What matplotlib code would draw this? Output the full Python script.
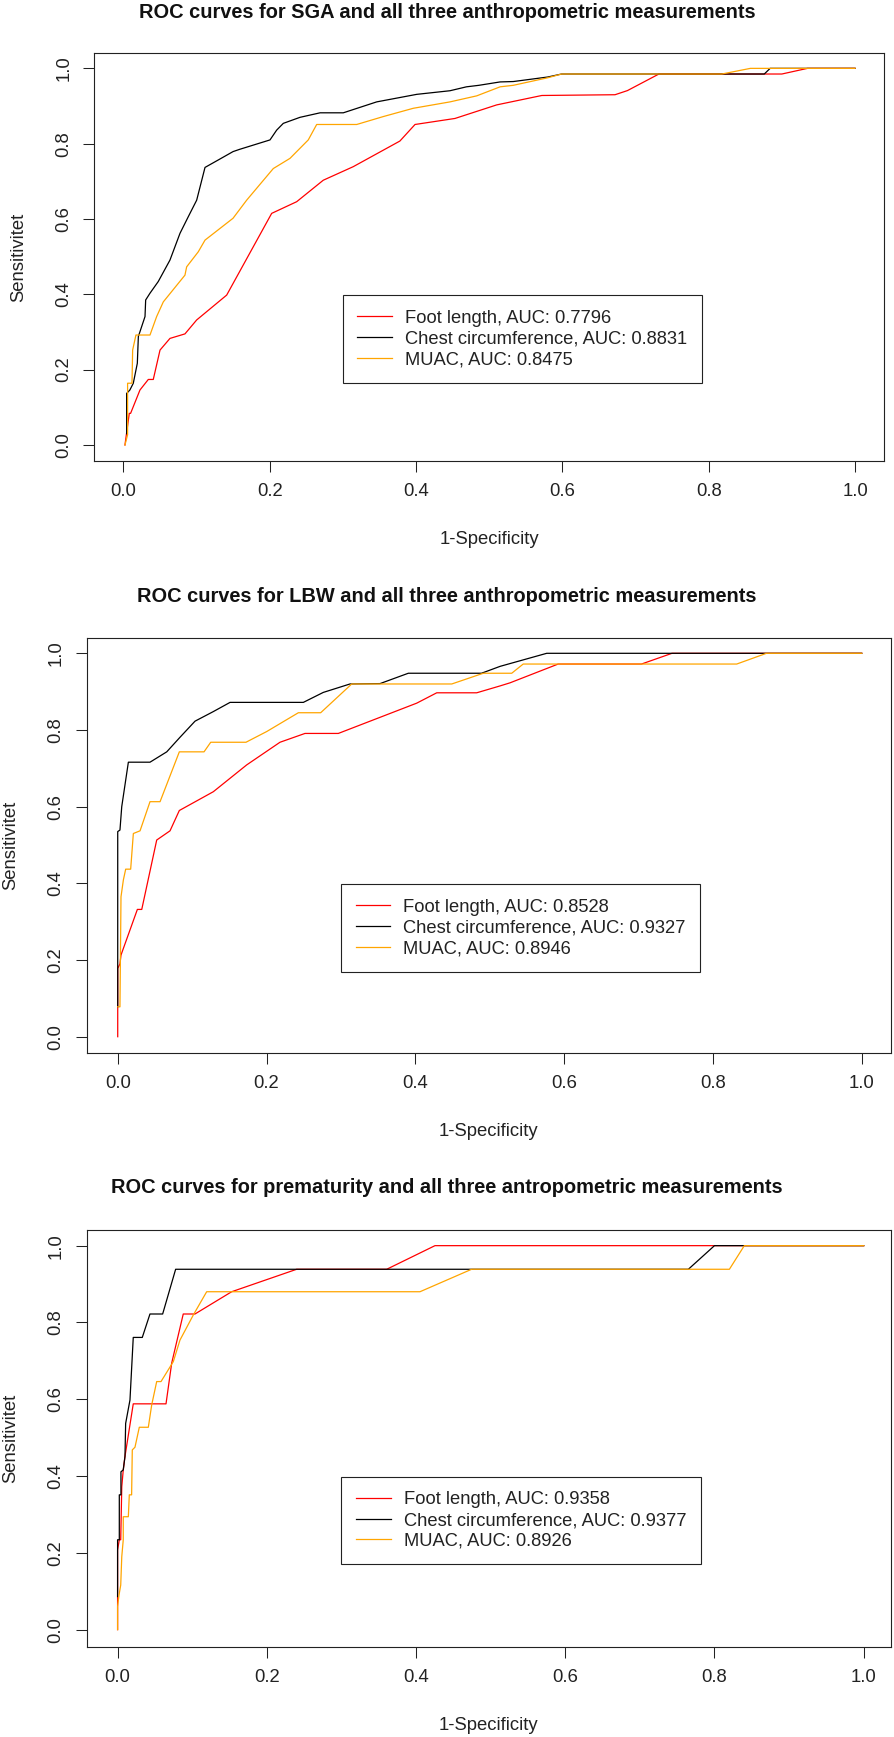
import matplotlib
matplotlib.use("Agg")
import matplotlib.pyplot as plt

plt.rcParams['font.family'] = ['Liberation Sans', 'DejaVu Sans']

W, H = 894, 1737

# ---- data (1-specificity, sensitivity) ----
sga_foot_x = [0.0023, 0.0082, 0.010, 0.0228, 0.0342, 0.0410, 0.0502, 0.0638, 0.0843, 0.1003, 0.1413, 0.2028, 0.237,
              0.2733, 0.3143, 0.378, 0.3987, 0.4533, 0.5103, 0.572, 0.672, 0.689, 0.732, 0.876, 0.90, 0.935, 1.0]
sga_foot_y = [0.0, 0.084, 0.084, 0.146, 0.174, 0.174, 0.252, 0.283, 0.295, 0.332, 0.398, 0.615, 0.646,
              0.703, 0.739, 0.807, 0.851, 0.867, 0.903, 0.928, 0.930, 0.941, 0.985, 0.985, 0.985, 1.0, 1.0]
sga_chest_x = [0.0046, 0.0046, 0.009, 0.0137, 0.0192, 0.0206, 0.0297, 0.0306, 0.0365, 0.0478, 0.0638, 0.0775, 0.0888,
               0.1003, 0.1117, 0.130, 0.150, 0.159, 0.2005, 0.2096, 0.2187, 0.2415, 0.269, 0.3007, 0.3463, 0.401,
               0.4465, 0.469, 0.486, 0.515, 0.533, 0.580, 0.599, 0.818, 0.876, 0.884, 1.0]
sga_chest_y = [0.03, 0.137, 0.146, 0.164, 0.217, 0.288, 0.341, 0.385, 0.403, 0.434, 0.491, 0.562, 0.606,
               0.650, 0.737, 0.757, 0.779, 0.785, 0.810, 0.836, 0.854, 0.870, 0.882, 0.882, 0.911, 0.931,
               0.9406, 0.951, 0.955, 0.964, 0.965, 0.977, 0.985, 0.985, 0.985, 1.0, 1.0]
sga_muac_x = [0.0023, 0.0059, 0.0059, 0.0119, 0.0128, 0.0173, 0.0365, 0.0456, 0.0547, 0.0843, 0.0866, 0.1025, 0.1117,
              0.150, 0.1686, 0.205, 0.2278, 0.2528, 0.2643, 0.319, 0.3553, 0.3963, 0.4465, 0.483, 0.515, 0.533,
              0.580, 0.599, 0.818, 0.857, 1.0]
sga_muac_y = [0.0, 0.027, 0.164, 0.164, 0.252, 0.292, 0.292, 0.341, 0.380, 0.451, 0.473, 0.513, 0.544,
              0.602, 0.650, 0.734, 0.761, 0.810, 0.851, 0.851, 0.872, 0.894, 0.911, 0.927, 0.951, 0.955,
              0.975, 0.985, 0.985, 1.0, 1.0]

lbw_foot_x = [0, 0, 0.003, 0.0044, 0.0264, 0.0323, 0.0524, 0.0703, 0.0828, 0.1285, 0.1734, 0.2181, 0.2517, 0.2965,
              0.4019, 0.4288, 0.4825, 0.514, 0.5273, 0.592, 0.704, 0.745, 1.0]
lbw_foot_y = [0, 0.178, 0.19, 0.213, 0.332, 0.332, 0.513, 0.537, 0.590, 0.639, 0.709, 0.768, 0.791, 0.791,
              0.870, 0.897, 0.897, 0.915, 0.923, 0.972, 0.972, 1.0, 1.0]
lbw_chest_x = [0, 0, 0.003, 0.0054, 0.0143, 0.0434, 0.0659, 0.0837, 0.1039, 0.1285, 0.151, 0.2495, 0.2763, 0.3122,
               0.3526, 0.3906, 0.489, 0.514, 0.5766, 1.0]
lbw_chest_y = [0.078, 0.535, 0.539, 0.600, 0.716, 0.716, 0.743, 0.781, 0.823, 0.848, 0.872, 0.872, 0.898, 0.920,
               0.921, 0.948, 0.948, 0.966, 1.0, 1.0]
lbw_muac_x = [0, 0.003, 0.0044, 0.0076, 0.0107, 0.0174, 0.0210, 0.030, 0.0434, 0.0569, 0.0828, 0.116, 0.125,
              0.1724, 0.2003, 0.2428, 0.2728, 0.3145, 0.449, 0.4914, 0.5296, 0.545, 0.832, 0.872, 1.0]
lbw_muac_y = [0.078, 0.078, 0.365, 0.409, 0.437, 0.437, 0.530, 0.537, 0.613, 0.613, 0.743, 0.743, 0.768,
              0.768, 0.796, 0.845, 0.845, 0.920, 0.920, 0.948, 0.948, 0.972, 0.972, 1.0, 1.0]

pre_foot_x = [0, 0, 0.0023, 0.0042, 0.0056, 0.0076, 0.0099, 0.021, 0.0649, 0.0725, 0.088, 0.1037, 0.1529, 0.240,
              0.3607, 0.4254, 1.0]
pre_foot_y = [0, 0.2075, 0.234, 0.234, 0.372, 0.416, 0.451, 0.588, 0.588, 0.694, 0.822, 0.822, 0.880, 0.9385,
              0.9385, 1.0, 1.0]
pre_chest_x = [0, 0, 0.0023, 0.0023, 0.0045, 0.0045, 0.0076, 0.0099, 0.0108, 0.0166, 0.021, 0.0331, 0.0434, 0.0604,
               0.0778, 0.765, 0.80, 1.0]
pre_chest_y = [0.086, 0.234, 0.234, 0.351, 0.351, 0.411, 0.416, 0.451, 0.537, 0.598, 0.761, 0.761, 0.822, 0.822,
               0.9385, 0.9385, 1.0, 1.0]
pre_muac_x = [0, 0, 0.0019, 0.0042, 0.0056, 0.0076, 0.0076, 0.0144, 0.0157, 0.0188, 0.0197, 0.0233, 0.0291, 0.0412,
              0.0457, 0.0524, 0.0582, 0.0747, 0.0836, 0.1015, 0.1194, 0.4053, 0.4745, 0.82, 0.84, 1.0]
pre_muac_y = [0, 0.06, 0.09, 0.116, 0.19, 0.234, 0.294, 0.294, 0.351, 0.351, 0.468, 0.475, 0.527, 0.527,
              0.585, 0.646, 0.646, 0.698, 0.754, 0.8195, 0.880, 0.880, 0.9385, 0.9385, 1.0, 1.0]

titles = ["ROC curves for SGA and all three anthropometric measurements",
          "ROC curves for LBW and all three anthropometric measurements",
          "ROC curves for prematurity and all three antropometric measurements"]
auc_foot = ["0.7796", "0.8528", "0.9358"]
auc_chest = ["0.8831", "0.9327", "0.9377"]
auc_muac = ["0.8475", "0.8946", "0.8926"]

curves = [
    [(sga_foot_x, sga_foot_y), (sga_chest_x, sga_chest_y), (sga_muac_x, sga_muac_y)],
    [(lbw_foot_x, lbw_foot_y), (lbw_chest_x, lbw_chest_y), (lbw_muac_x, lbw_muac_y)],
    [(pre_foot_x, pre_foot_y), (pre_chest_x, pre_chest_y), (pre_muac_x, pre_muac_y)],
]
colors = ["#ff0000", "#000000", "#ffa500"]

# pixel layout of each panel: box left/right/top/bottom, x-limits, y-limits
boxes = [(94.3, 884.0, 53.3, 461.0), (86.7, 890.5, 637.7, 1052.7), (86.7, 891.0, 1230.3, 1646.5)]
xlims = [(-0.0396, 1.0396), (-0.0417, 1.0387), (-0.0414, 1.0366)]
ylims = [(-0.0425, 1.040), (-0.0417, 1.0407), (-0.044, 1.040)]
title_base = [18.5, 601.7, 1193.0]
ylab_x = [18.5, 11.0, 11.0]

fig = plt.figure(figsize=(W / 100, H / 100), dpi=100)

for i in range(3):
    l, r, t, b = boxes[i]
    ax = fig.add_axes([l / W, 1 - b / H, (r - l) / W, (b - t) / H])
    labels = ["Foot length, AUC: " + auc_foot[i],
              "Chest circumference, AUC: " + auc_chest[i],
              "MUAC, AUC: " + auc_muac[i]]
    for (cx, cy), col, lab in zip(curves[i], colors, labels):
        ax.plot(cx, cy, color=col, lw=0.9, label=lab)
    ax.set_xlim(*xlims[i])
    ax.set_ylim(*ylims[i])
    ticks = [0.0, 0.2, 0.4, 0.6, 0.8, 1.0]
    ax.set_xticks(ticks)
    ax.set_yticks(ticks)
    ax.set_xticklabels(["%.1f" % v for v in ticks])
    ax.set_yticklabels(["%.1f" % v for v in ticks], rotation=90, va='center')
    ax.tick_params(direction='out', length=7.9, width=0.75, labelsize=13.3, pad=8, colors='#222222',
                   labelcolor='#222222')
    for s in ax.spines.values():
        s.set_linewidth(0.8)
        s.set_color('#222222')

    leg = ax.legend(loc='upper left', bbox_to_anchor=(0.3, 0.398), bbox_transform=ax.transData,
                    borderaxespad=0, fontsize=13.2, frameon=True, fancybox=False, framealpha=1,
                    edgecolor='#222222', borderpad=0.8, handlelength=1.9, handletextpad=0.7,
                    labelspacing=0.2)
    leg.get_frame().set_linewidth(0.8)
    for txt in leg.get_texts():
        txt.set_color('#222222')

    ax.text(0.5, -78.5 / (b - t), "1-Specificity", transform=ax.transAxes, ha='center', va='center',
            fontsize=13.3, color='#222222')
    fig.text(ylab_x[i] / W, 1 - (t + b) / 2 / H, "Sensitivitet", rotation=90, ha='center', va='center',
             fontsize=13.3, color='#222222')
    fig.text(0.5, 1 - title_base[i] / H, titles[i], ha='center', va='baseline', fontsize=14.4,
             fontweight='bold', color='#111111')

fig.savefig("out.png", dpi=100)
